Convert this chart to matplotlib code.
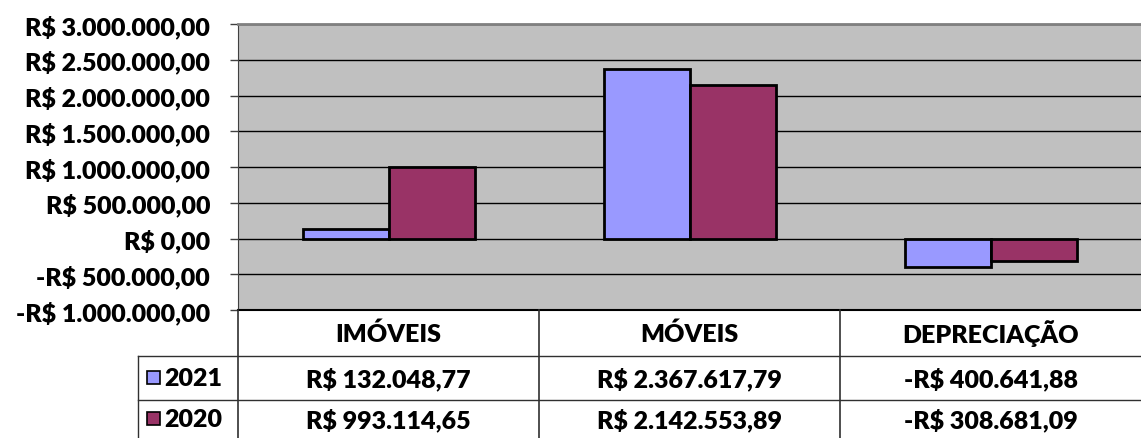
import matplotlib.pyplot as plt
from matplotlib.patches import Rectangle
import numpy as np

categorias = ['IMÓVEIS', 'MÓVEIS', 'DEPRECIAÇÃO']
anos = ['2021', '2020']
v2021 = [132048.77, 2367617.79, -400641.88]
v2020 = [993114.65, 2142553.89, -308681.09]
cores = ['#9999FF', '#993366']
yticks = [-1000000, -500000, 0, 500000, 1000000, 1500000, 2000000, 2500000, 3000000]

FONTE = 'Lato'
PESO = 'heavy'
TAM = 18


def brl(v):
    s = f"{abs(v):,.2f}".replace(',', '#').replace('.', ',').replace('#', '.')
    return ('-R$ ' if v < 0 else 'R$ ') + s


W, H = 1141, 439
fig = plt.figure(figsize=(W / 100, H / 100), dpi=100)

# area do grafico em pixels
x0, x1 = 238, 1141
yt, yb = 25, 311
ax = fig.add_axes([x0 / W, 1 - yb / H, (x1 - x0) / W, (yb - yt) / H])
ax.set_facecolor('#C0C0C0')

x = np.arange(len(categorias))
larg = 1 / 3.5
ax.bar(x - larg / 2, v2021, larg, color=cores[0], edgecolor='black', linewidth=2, zorder=3)
ax.bar(x + larg / 2, v2020, larg, color=cores[1], edgecolor='black', linewidth=2, zorder=3)

ax.set_xlim(-0.5, len(categorias) - 0.5)
ax.set_ylim(yticks[0], yticks[-1])
ax.set_yticks(yticks)
ax.set_yticklabels([brl(t) if t != 0 else 'R$ 0,00' for t in yticks],
                   fontfamily=FONTE, fontweight=PESO, fontsize=TAM)
ax.yaxis.grid(True, color='black', linewidth=1, zorder=1)
ax.set_axisbelow(True)
ax.set_xticks([])
ax.tick_params(axis='y', direction='out', length=6, width=1, color='#404040', pad=14)
ax.spines['right'].set_visible(False)
ax.spines['bottom'].set_visible(False)
ax.spines['left'].set_color('#404040')
ax.spines['top'].set_color('#808080')
ax.spines['top'].set_linewidth(2)

# tabela de dados
tab = fig.add_axes([0, 0, 1, 1], zorder=5)
tab.set_xlim(0, W)
tab.set_ylim(H, 0)
tab.axis('off')
tab.patch.set_alpha(0)

leg_x = 138
col_w = (x1 - x0) / len(categorias)
linhas = [yb, 357, 401, H]
lc = '#303030'

tab.plot([x0, x1], [yb, yb], color='black', lw=1.5)
for yy in linhas[1:3]:
    tab.plot([leg_x, x1], [yy, yy], color=lc, lw=1)
tab.plot([leg_x, leg_x], [linhas[1], H], color=lc, lw=1)
for i in range(len(categorias)):
    xx = x0 + i * col_w
    tab.plot([xx, xx], [yb, H], color=lc, lw=1.2)

for i, c in enumerate(categorias):
    cx = x0 + (i + 0.5) * col_w
    tab.text(cx, (linhas[0] + linhas[1]) / 2, c, ha='center', va='center',
             fontfamily=FONTE, fontweight=PESO, fontsize=TAM)

for r, (ano, vals) in enumerate(zip(anos, [v2021, v2020])):
    cy = (linhas[r + 1] + linhas[r + 2]) / 2
    tab.add_patch(Rectangle((147, cy - 7), 13, 13, facecolor=cores[r], edgecolor='black', lw=1.2))
    tab.text(164, cy, ano, ha='left', va='center',
             fontfamily=FONTE, fontweight=PESO, fontsize=TAM)
    for i, v in enumerate(vals):
        cx = x0 + (i + 0.5) * col_w
        tab.text(cx, cy, brl(v), ha='center', va='center',
                 fontfamily=FONTE, fontweight=PESO, fontsize=TAM)

fig.savefig('out.png', dpi=100)
